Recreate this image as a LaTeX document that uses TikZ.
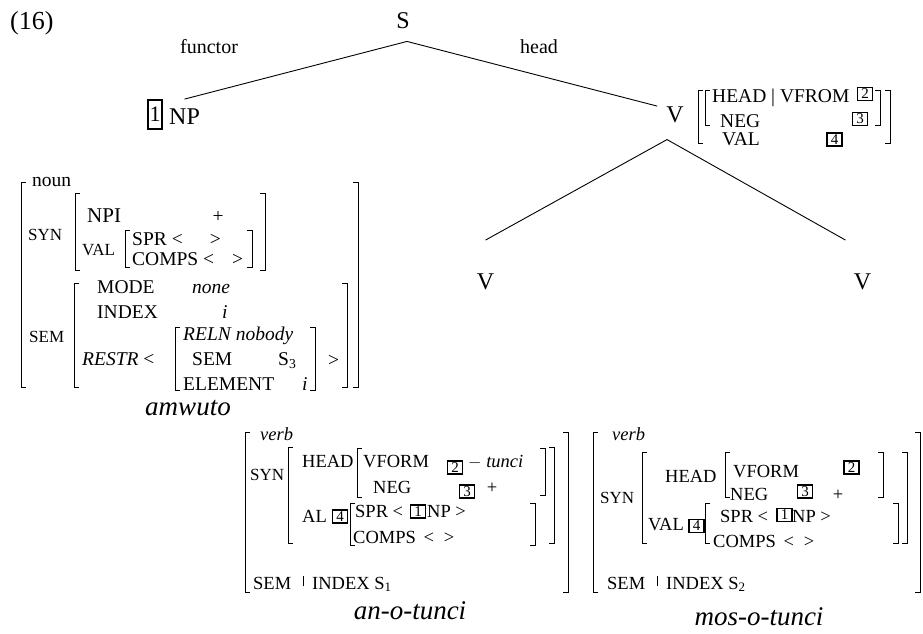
\documentclass[tikz,border=0pt]{standalone}
\usepackage{fontspec}
\setmainfont{Liberation Serif}
\usepackage{tikz}
\usetikzlibrary{positioning}

% brackets of the feature structures
\newcommand{\lbrk}[3]{\draw[brk] (#1+5,#2) -- (#1,#2) -- (#1,#3) -- (#1+5,#3);}
\newcommand{\rbrk}[3]{\draw[brk] (#1-5,#2) -- (#1,#2) -- (#1,#3) -- (#1-5,#3);}
\newcommand{\pathbar}{\rule[3pt]{0.9pt}{10pt}}

\begin{document}
\begin{tikzpicture}[
  x=1pt, y=-1pt,
  tree/.style={inner sep=0, font=\fontsize{24}{24}\selectfont},
  lab/.style={inner sep=0, anchor=base west, font=\fontsize{20}{20}\selectfont},
  avm/.style={inner sep=0, anchor=base west, font=\fontsize{19.5}{19.5}\selectfont},
  feat/.style={inner sep=0, anchor=base west, font=\fontsize{17}{17}\selectfont},
  word/.style={inner sep=0, anchor=base, font=\fontsize{27}{27}\selectfont\itshape},
  tag/.style={draw, line width=1.2pt, inner sep=0, minimum width=15, minimum height=13, font=\fontsize{15}{15}\selectfont},
  brk/.style={line width=0.9pt},
  branch/.style={line width=0.9pt}
]
  \useasboundingbox (0,0) rectangle (923,633);

  % tree
  \node[inner sep=0, anchor=base west, font=\fontsize{26}{26}\selectfont] (num) at (10,29) {(16)};
  \node[tree, anchor=base] (s) at (403,28) {S};
  \node[lab] (functor) at (180,53) {functor};
  \node[lab] (head) at (520,53) {head};
  \node[tree, anchor=base west] (np) at (169,124) {NP};
  \node[tag, minimum width=14, minimum height=29, font=\fontsize{22}{22}\selectfont] (np-tag) at (155,114.5) {1};
  \node[tree, anchor=base] (v) at (675,122) {V};
  \node[tree, anchor=base] (vl) at (485.5,289) {V};
  \node[tree, anchor=base] (vr) at (862.5,289) {V};

  \draw[branch] (s.south) ++(4,13) -- ([yshift=9pt]np.north);
  \draw[branch] (s.south) ++(4,13) -- ([xshift=-9pt]v.north west);
  \draw[branch] ([xshift=-8pt,yshift=-17pt]v.south) -- ([yshift=33pt]vl.north);
  \draw[branch] ([xshift=-8pt,yshift=-17pt]v.south) -- ([xshift=-17pt,yshift=33pt]vr.north);

  % V mother
  \lbrk{698}{90}{143} \rbrk{890}{90}{143}
  \lbrk{705}{90}{125} \rbrk{880}{90}{125}
  \node[avm] (m-head) at (712,102) {HEAD | VFROM};
  \node[tag] (m-two) at (865,94) {2};
  \node[avm] (m-neg) at (720,127) {NEG};
  \node[tag] (m-three) at (860,119) {3};
  \node[avm] (m-val) at (722,145) {VAL};
  \node[tag] (m-four) at (834.5,139.5) {4};

  % amwuto
  \lbrk{21}{182}{387} \rbrk{358}{182}{387}
  \node[avm] (n-noun) at (32,186) {noun};
  \node[feat] (n-syn) at (28,240) {SYN};
  \lbrk{75}{193}{270} \rbrk{265}{193}{270}
  \node[avm, font=\fontsize{21}{21}\selectfont] (n-npi) at (87,222) {NPI};
  \node[avm, anchor=base] (n-plus) at (218,222) {+};
  \node[feat] (n-val) at (82,255) {VAL};
  \lbrk{125}{230}{267} \rbrk{252}{230}{267}
  \node[avm] (n-spr) at (132,245) {SPR <\hspace{27pt}>};
  \node[avm] (n-comps) at (132,265) {COMPS <\hspace{18pt}>};
  \node[feat] (n-sem) at (29,342) {SEM};
  \lbrk{74}{283}{387} \rbrk{347}{283}{387}
  \node[avm] (n-mode) at (97,293) {MODE};
  \node[avm] (n-none) at (192,293) {\itshape none};
  \node[avm] (n-index) at (97,318) {INDEX};
  \node[avm] (n-i) at (222,318) {\itshape i};
  \node[avm] (n-restr) at (82,365) {\itshape RESTR \upshape <};
  \lbrk{175}{327}{390} \rbrk{315}{327}{390}
  \node[avm] (n-reln) at (183,340) {\itshape RELN nobody};
  \node[avm] (n-sem3) at (192,365) {SEM};
  \node[avm] (n-s3) at (278,365) {S\textsubscript{3}};
  \node[avm] (n-elem) at (183,390) {ELEMENT};
  \node[avm] (n-i2) at (302,390) {\itshape i};
  \node[avm] (n-gt) at (328,366) {>};
  \node[word] (amwuto) at (188,415) {amwuto};

  \begin{scope}[avm/.append style={font=\fontsize{18.5}{18.5}\selectfont}]
  % an-o-tunci
  \lbrk{245}{432}{592} \rbrk{568}{432}{592}
  \node[avm] (a-verb) at (260,440) {\itshape verb};
  \node[feat] (a-syn) at (250,480) {SYN};
  \lbrk{288}{447}{543} \rbrk{554}{447}{543}
  \node[avm] (a-head) at (302,467) {HEAD};
  \lbrk{357}{448}{497} \rbrk{545}{448}{495}
  \node[avm] (a-vform) at (363,467) {VFORM};
  \node[tag] (a-two) at (455,467.5) {2};
  \node[avm] (a-tunci) at (468,467) {$-$ \itshape tunci};
  \node[avm] (a-neg) at (373,493) {NEG};
  \node[tag] (a-three) at (467,491.5) {3};
  \node[avm, anchor=base] (a-plus) at (492,493) {+};
  \node[avm] (a-val) at (302,522) {AL};
  \node[tag] (a-four) at (340,516.5) {4};
  \lbrk{350}{503}{545} \rbrk{535}{503}{545}
  \node[avm] (a-spr) at (355,517) {SPR <};
  \node[tag] (a-one) at (418,511.5) {1};
  \node[avm] (a-np) at (427,517) {NP >};
  \node[avm] (a-comps) at (353,543) {COMPS \hspace{3pt}<\hspace{10pt}>};
  \node[avm] (a-sem) at (253,589) {SEM\hspace{12pt}\pathbar\hspace{8pt}INDEX S\textsubscript{1}};
  \node[word] (anotunci) at (410,619) {an-o-tunci};

  % mos-o-tunci
  \lbrk{593}{432}{592} \rbrk{920}{432}{592}
  \node[avm] (b-verb) at (612,440) {\itshape verb};
  \node[feat] (b-syn) at (600,503) {SYN};
  \lbrk{642}{452}{543} \rbrk{907}{452}{543}
  \node[avm] (b-head) at (665,482) {HEAD};
  \lbrk{725}{452}{497} \rbrk{883}{452}{497}
  \node[avm] (b-vform) at (733,477) {VFORM};
  \node[tag] (b-two) at (851.5,467.5) {2};
  \node[avm] (b-neg) at (730,500) {NEG};
  \node[tag] (b-three) at (805,491.5) {3};
  \node[avm, anchor=base] (b-plus) at (838,500) {+};
  \node[avm] (b-val) at (648,530) {VAL};
  \node[tag] (b-four) at (696.5,526) {4};
  \lbrk{705}{503}{543} \rbrk{898}{503}{543}
  \node[avm] (b-spr) at (720,522) {SPR <};
  \node[tag] (b-one) at (784.5,515) {1};
  \node[avm] (b-np) at (792,522) {NP >};
  \node[avm] (b-comps) at (713,547) {COMPS \hspace{3pt}<\hspace{10pt}>};
  \node[avm] (b-sem) at (607,589) {SEM\hspace{12pt}\pathbar\hspace{8pt}INDEX S\textsubscript{2}};
  \node[word] (mosotunci) at (759,625) {mos-o-tunci};
  \end{scope}
\end{tikzpicture}
\end{document}
